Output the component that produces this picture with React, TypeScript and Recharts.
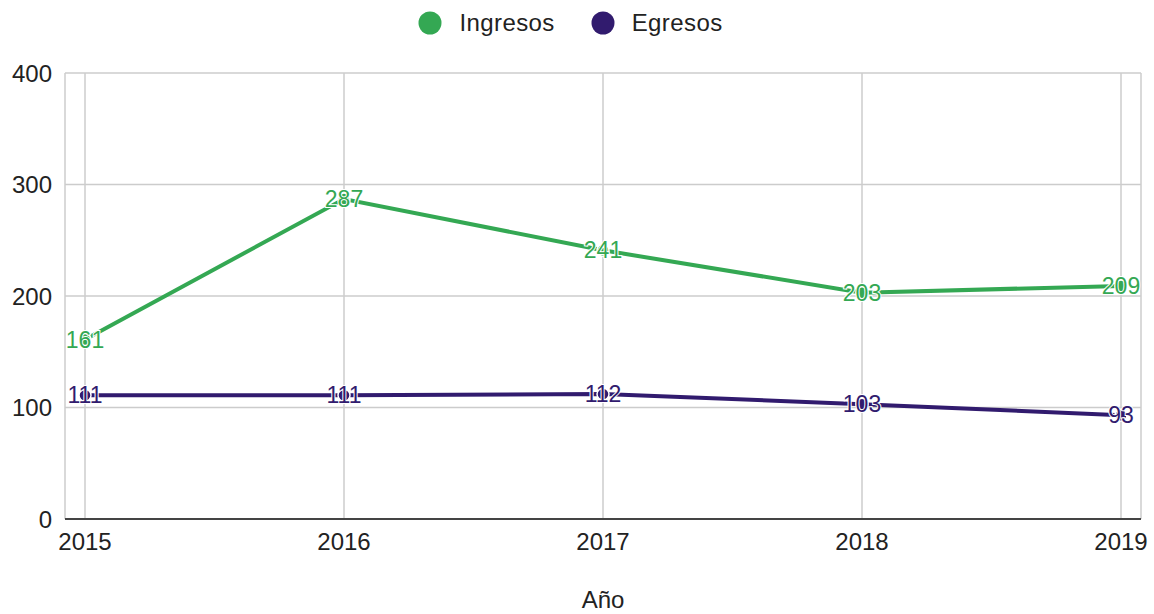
import React from 'react'
import { LineChart, Line, XAxis, YAxis, CartesianGrid, Legend, LabelList } from 'recharts'

const years = ['2015', '2016', '2017', '2018', '2019']
const ingresos = [161, 287, 241, 203, 209]
const egresos = [111, 111, 112, 103, 93]
const yTicks = [0, 100, 200, 300, 400]

const GREEN = '#34a853'
const PURPLE = '#311b6e'
const FONT = '"Liberation Sans", Arial, sans-serif'

const data = years.map((year, i) => ({ year, Ingresos: ingresos[i], Egresos: egresos[i] }))

const LegendContent = () => (
  <div style={{ display: 'flex', justifyContent: 'center', alignItems: 'center', gap: 36, height: 30 }}>
    {[
      { name: 'Ingresos', color: GREEN },
      { name: 'Egresos', color: PURPLE },
    ].map((item) => (
      <div key={item.name} style={{ display: 'flex', alignItems: 'center', gap: 17 }}>
        <svg width={24} height={24}>
          <circle cx={12} cy={12} r={11.5} fill={item.color} />
        </svg>
        <span style={{ fontSize: 24, color: '#222', letterSpacing: 0.4 }}>{item.name}</span>
      </div>
    ))}
  </div>
)

const labelStyle = { paintOrder: 'stroke' as const }

export default function App() {
  return (
    <div style={{ width: 1154, height: 614, fontFamily: FONT }}>
      <style>{'body { margin: 0; }'}</style>
      <LineChart width={1154} height={614} data={data} margin={{ top: 0, right: 13, bottom: 0, left: 0 }}>
        <CartesianGrid stroke="#cccccc" strokeWidth={1.5} />
        <Legend verticalAlign="top" height={73} wrapperStyle={{ top: 8 }} content={<LegendContent />} />
        <XAxis
          dataKey="year"
          padding={{ left: 20, right: 20 }}
          height={95}
          tickLine={false}
          tickMargin={8}
          axisLine={{ stroke: '#444', strokeWidth: 2 }}
          tick={{ fontSize: 24, fill: '#222', fontFamily: FONT }}
          label={{ value: 'Año', position: 'insideBottom', offset: 6, fontSize: 24, fill: '#222', fontFamily: FONT }}
        />
        <YAxis
          domain={[0, 400]}
          ticks={yTicks}
          width={65}
          axisLine={false}
          tickLine={false}
          tickMargin={7}
          tick={{ fontSize: 24, fill: '#222', fontFamily: FONT }}
        />
        <Line
          dataKey="Ingresos"
          stroke={GREEN}
          strokeWidth={4}
          dot={{ r: 6, fill: GREEN, stroke: '#fff', strokeWidth: 1.5 }}
          isAnimationActive={false}
        >
          <LabelList
            dataKey="Ingresos"
            position="center"
            fill={GREEN}
            stroke="#fff"
            strokeWidth={2}
            fontSize={23}
            fontFamily={FONT}
            style={labelStyle}
          />
        </Line>
        <Line
          dataKey="Egresos"
          stroke={PURPLE}
          strokeWidth={4}
          dot={{ r: 6, fill: PURPLE, stroke: '#fff', strokeWidth: 1.5 }}
          isAnimationActive={false}
        >
          <LabelList
            dataKey="Egresos"
            position="center"
            fill={PURPLE}
            stroke="#fff"
            strokeWidth={2}
            fontSize={23}
            fontFamily={FONT}
            style={labelStyle}
          />
        </Line>
      </LineChart>
    </div>
  )
}
